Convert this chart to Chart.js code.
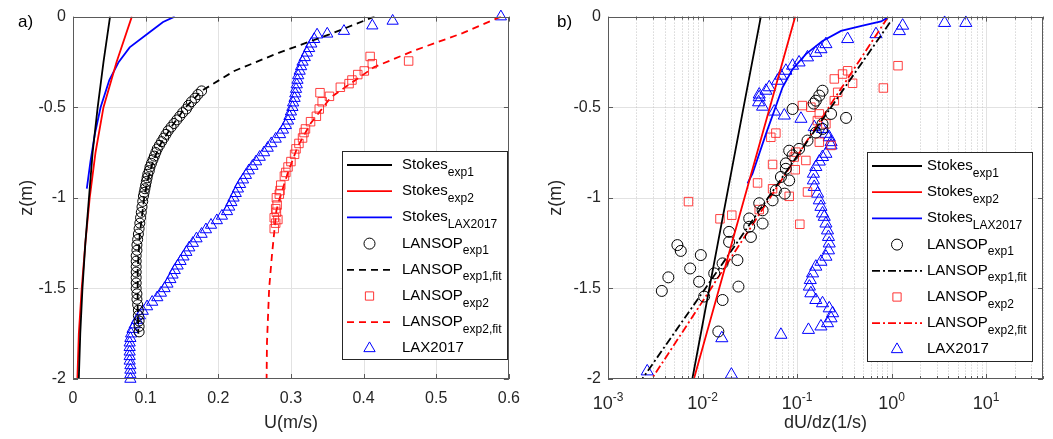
<!DOCTYPE html>
<html lang="en">
<head>
<meta charset="utf-8" />
<title>Stokes drift profiles</title>
<script src="https://cdn.jsdelivr.net/npm/chart.js@4.4.0/dist/chart.umd.min.js"></script>
<style>
  body { margin: 0; background: #fff; }
  .panel { position: absolute; top: 0; height: 439px; }
  #pa { left: 0; width: 530px; }
  #pb { left: 530px; width: 523px; }
</style>
</head>
<body>
<div class="panel" id="pa"><canvas id="chartA"></canvas></div>
<div class="panel" id="pb"><canvas id="chartB"></canvas></div>
<script>
// ---------- panel a) : U(z) ----------
const zStokes = [0, -0.25, -0.5, -0.75, -1, -1.25, -1.5, -1.75, -2];
const uStokesExp1 = [0.051, 0.042, 0.034, 0.027, 0.022, 0.017, 0.013, 0.010, 0.008];
const uStokesExp2 = [0.081, 0.060, 0.042, 0.031, 0.023, 0.017, 0.012, 0.008, 0.006];
const zStokesLax = [0, -0.03, -0.09, -0.17, -0.25, -0.35, -0.5, -0.65, -0.8, -0.95];
const uStokesLax = [0.140, 0.124, 0.104, 0.078, 0.063, 0.050, 0.038, 0.030, 0.024, 0.019];

const zLansop1 = [-0.41, -0.43, -0.45, -0.47, -0.49, -0.51, -0.53, -0.55, -0.57, -0.59, -0.61, -0.63, -0.65, -0.67, -0.69,
  -0.71, -0.73, -0.75, -0.77, -0.79, -0.81, -0.83, -0.85, -0.87, -0.89, -0.91, -0.93, -0.95, -0.97, -0.99,
  -1.02, -1.05, -1.08, -1.11, -1.14, -1.17, -1.20, -1.23, -1.26, -1.29, -1.32, -1.35, -1.38, -1.41, -1.44,
  -1.47, -1.50, -1.53, -1.56, -1.59, -1.62, -1.65, -1.68, -1.71, -1.74];
const uLansop1 = [0.177, 0.172, 0.168, 0.163, 0.159, 0.156, 0.151, 0.147, 0.143, 0.139, 0.135, 0.131, 0.128, 0.125, 0.122,
  0.119, 0.116, 0.114, 0.112, 0.110, 0.108, 0.106, 0.105, 0.103, 0.102, 0.101, 0.100, 0.099, 0.098, 0.097,
  0.096, 0.095, 0.094, 0.093, 0.092, 0.091, 0.090, 0.089, 0.088, 0.088, 0.087, 0.087, 0.087, 0.087, 0.087,
  0.087, 0.087, 0.088, 0.088, 0.089, 0.090, 0.090, 0.091, 0.091, 0.091];
const zFit1 = [0, -0.1, -0.2, -0.3, -0.41, -0.5, -0.6, -0.7, -0.8, -0.9, -1.0, -1.2, -1.4, -1.6, -1.75];
const uFit1 = [0.415, 0.352, 0.283, 0.222, 0.177, 0.155, 0.137, 0.121, 0.110, 0.103, 0.098, 0.092, 0.089, 0.089, 0.090];

const zLansop2 = [-0.22, -0.245, -0.26, -0.30, -0.32, -0.35, -0.37, -0.39, -0.42, -0.44, -0.47, -0.51, -0.55, -0.58, -0.62,
  -0.64, -0.67, -0.70, -0.73, -0.76, -0.80, -0.83, -0.86, -0.88, -0.93, -0.96, -0.98, -1.00, -1.04, -1.06,
  -1.08, -1.11, -1.12, -1.14, -1.17];
const uLansop2 = [0.409, 0.462, 0.412, 0.401, 0.392, 0.384, 0.380, 0.368, 0.340, 0.353, 0.343, 0.339, 0.335, 0.327, 0.320,
  0.318, 0.316, 0.311, 0.307, 0.305, 0.300, 0.296, 0.293, 0.291, 0.286, 0.285, 0.284, 0.280, 0.281, 0.279,
  0.280, 0.277, 0.282, 0.279, 0.277];
const zFit2 = [0, -0.09, -0.19, -0.28, -0.445, -0.59, -0.72, -0.865, -1.01, -1.07, -1.31, -1.5, -1.8, -2];
const uFit2 = [0.589, 0.537, 0.468, 0.414, 0.355, 0.327, 0.309, 0.2955, 0.284, 0.280, 0.274, 0.270, 0.267, 0.2665];

const zLax = [0, -0.024, -0.05, -0.08, -0.095,
  -0.10, -0.125, -0.15, -0.175, -0.20, -0.225, -0.25, -0.275, -0.30, -0.325, -0.35, -0.375, -0.40, -0.425, -0.45,
  -0.475, -0.50, -0.525, -0.55, -0.575, -0.60, -0.625, -0.65, -0.675, -0.70, -0.725, -0.75, -0.775, -0.80, -0.825,
  -0.85, -0.875, -0.90, -0.925, -0.95, -0.975, -1.00, -1.025, -1.05, -1.075, -1.10, -1.125, -1.15, -1.175, -1.20,
  -1.225, -1.25, -1.275, -1.30, -1.325, -1.35, -1.375, -1.40, -1.425, -1.45, -1.475, -1.50, -1.525, -1.55, -1.575,
  -1.60, -1.625, -1.65, -1.675, -1.70, -1.725, -1.75, -1.775, -1.80, -1.825, -1.85, -1.875, -1.90, -1.925, -1.95,
  -1.975, -2.00];
const uLax = [0.589, 0.440, 0.412, 0.373, 0.350,
  0.336, 0.332, 0.328, 0.325, 0.322, 0.319, 0.316, 0.314, 0.312, 0.310, 0.309, 0.308, 0.307, 0.306, 0.305,
  0.303, 0.302, 0.300, 0.298, 0.296, 0.293, 0.289, 0.285, 0.279, 0.273, 0.268, 0.263, 0.257, 0.252, 0.247,
  0.242, 0.238, 0.234, 0.230, 0.227, 0.224, 0.221, 0.218, 0.215, 0.212, 0.205, 0.198, 0.190, 0.183, 0.177,
  0.170, 0.165, 0.160, 0.156, 0.152, 0.148, 0.144, 0.140, 0.137, 0.134, 0.130, 0.126, 0.121, 0.116, 0.109,
  0.102, 0.096, 0.092, 0.088, 0.085, 0.082, 0.080, 0.079, 0.078, 0.078, 0.078, 0.078, 0.078, 0.079, 0.079,
  0.079, 0.079];

// ---------- panel b) : dU/dz(z) ----------
const zShearLine = [0, -0.5, -1, -1.5, -2];
const sStokesExp1 = [0.0414, 0.0272, 0.0179, 0.0118, 0.0078];
const sStokesExp2 = [0.0957, 0.0516, 0.0278, 0.0150, 0.0081];
const zShearLax = [-0.005, -0.027, -0.05, -0.079, -0.134, -0.207, -0.29, -0.39, -0.52, -0.647, -0.757, -0.867, -0.92];
const sStokesLax = [0.91, 0.775, 0.494, 0.292, 0.186, 0.124, 0.0897, 0.0703, 0.0574, 0.0469, 0.0398, 0.0338, 0.0299];
const zShearFit1 = [-0.033, -0.5, -1, -1.5, -2];
const sFit1 = [0.96, 0.229, 0.0494, 0.0107, 0.0023];
const zShearFit2 = [-0.005, -0.5, -1, -1.5, -2];
const sFit2 = [0.91, 0.217, 0.0518, 0.0123, 0.0029];

const zShear1 = [-0.409, -0.436, -0.464, -0.48, -0.51, -0.537, -0.559, -0.592, -0.62, -0.64, -0.684, -0.73, -0.74, -0.766,
  -0.81, -0.84, -0.885, -0.904, -0.959, -0.977, -1.014, -1.03, -1.069, -1.114, -1.142, -1.16, -1.188, -1.216, -1.243,
  -1.261, -1.293, -1.316, -1.344, -1.362, -1.39, -1.417, -1.439, -1.463, -1.49, -1.514, -1.545, -1.564, -1.738];
const sShear1 = [0.186, 0.172, 0.158, 0.150, 0.0897, 0.229, 0.330, 0.186, 0.186, 0.158, 0.129, 0.105, 0.0826, 0.0897,
  0.0762, 0.0762, 0.0675, 0.0826, 0.0597, 0.0740, 0.0551, 0.0398, 0.0432, 0.0312, 0.0432, 0.0312, 0.0191, 0.0325, 0.0191,
  0.00542, 0.00589, 0.00959, 0.0234, 0.0163, 0.0074, 0.0133, 0.00435, 0.0092, 0.024, 0.00371, 0.0104, 0.0163, 0.0147];

const zShear2 = [-0.271, -0.299, -0.317, -0.344, -0.368, -0.394, -0.418, -0.464, -0.491, -0.50, -0.537, -0.574, -0.592,
  -0.643, -0.666, -0.693, -0.711, -0.748, -0.775, -0.794, -0.816, -0.845, -0.918, -0.95, -0.968, -0.992, -1.021, -1.065,
  -1.096, -1.116, -1.146];
const sShear2 = [1.17, 0.343, 0.303, 0.248, 0.387, 0.819, 0.269, 0.248, 0.114, 0.140, 0.172, 0.164, 0.202,
  0.0597, 0.0528, 0.172, 0.229, 0.0973, 0.0934, 0.124, 0.0551, 0.0957, 0.0382, 0.0551, 0.129, 0.0826, 0.0071, 0.0398,
  0.0204, 0.0153, 0.107];

const zShearLaxPts = [-0.035, -0.035, -0.05, -0.08, -0.097, -0.124, -0.152, -0.18, -0.2, -0.225, -0.253, -0.271, -0.299,
  -0.326, -0.354, -0.39, -0.409, -0.43, -0.445, -0.473, -0.497, -0.524, -0.546, -0.564, -0.61, -0.62, -0.647, -0.666,
  -0.693, -0.711, -0.757, -0.775, -0.80, -0.83, -0.867, -0.904, -0.94, -0.977, -1.014, -1.05, -1.086, -1.105, -1.142,
  -1.18, -1.216, -1.252, -1.29, -1.325, -1.353, -1.38, -1.417, -1.454, -1.49, -1.527, -1.564, -1.582, -1.61, -1.637,
  -1.665, -1.692, -1.71, -1.729, -1.756, -1.775, -1.958, -1.976];
const sShearLaxPts = [6.1, 3.64, 1.31, 1.21, 0.684, 0.343, 0.202, 0.179, 0.158, 0.129, 0.105, 0.0897, 0.0762,
  0.0675, 0.0622, 0.0508, 0.0469, 0.0398, 0.0398, 0.0392, 0.0432, 0.0574, 0.0733, 0.110, 0.152, 0.186, 0.202, 0.219,
  0.229, 0.229, 0.202, 0.186, 0.172, 0.158, 0.149, 0.149, 0.152, 0.165, 0.172, 0.179, 0.186, 0.194, 0.202,
  0.21, 0.215, 0.219, 0.215, 0.202, 0.179, 0.158, 0.146, 0.138, 0.135, 0.140, 0.158, 0.186, 0.219, 0.238,
  0.229, 0.21, 0.179, 0.132, 0.0675, 0.016, 0.0026, 0.0202];

const decadeTicks = [0.001, 0.01, 0.1, 1, 10];
const decadeExponents = ['-3', '-2', '-1', '0', '1'];
const zTicks = [0, -0.5, -1, -1.5, -2];

const FONT = '"Liberation Sans", Arial, Helvetica, sans-serif';

function pts(xs, ys) {
  return xs.map((x, i) => ({ x: x, y: ys[i] }));
}
function lineSet(xs, zs, color, dash) {
  return { data: pts(xs, zs), showLine: true, borderColor: color, borderWidth: 1.8,
    borderDash: dash || [], pointRadius: 0, pointHoverRadius: 0, fill: false };
}
function markerSet(xs, zs, color, style, r) {
  return { data: pts(xs, zs), showLine: false, pointStyle: style, pointRadius: r, pointHoverRadius: r,
    pointBorderColor: color, pointBackgroundColor: 'rgba(0,0,0,0)', pointBorderWidth: 1, clip: false };
}

function legendEntries(fitDash) {
  return [
    { main: 'Stokes', sub: 'exp1', kind: 'line', color: '#000' },
    { main: 'Stokes', sub: 'exp2', kind: 'line', color: '#f00' },
    { main: 'Stokes', sub: 'LAX2017', kind: 'line', color: '#00f' },
    { main: 'LANSOP', sub: 'exp1', kind: 'circle', color: '#000' },
    { main: 'LANSOP', sub: 'exp1,fit', kind: 'line', color: '#000', dash: fitDash },
    { main: 'LANSOP', sub: 'exp2', kind: 'rect', color: '#f33' },
    { main: 'LANSOP', sub: 'exp2,fit', kind: 'line', color: '#f00', dash: fitDash },
    { main: 'LAX2017', sub: '', kind: 'triangle', color: '#00f' }
  ];
}

function drawMarker(ctx, kind, x, y, r) {
  ctx.beginPath();
  if (kind === 'circle') ctx.arc(x, y, r, 0, Math.PI * 2);
  else if (kind === 'rect') ctx.rect(x - r * 0.75, y - r * 0.75, r * 1.5, r * 1.5);
  else if (kind === 'triangle') {
    ctx.moveTo(x, y - r);
    ctx.lineTo(x + r * 0.87, y + r * 0.5);
    ctx.lineTo(x - r * 0.87, y + r * 0.5);
    ctx.closePath();
  }
  ctx.stroke();
}

// grid, box, inward ticks, legend and labels, drawn from the chart's own scales
function decor(o) {
  return {
    id: 'decor' + o.tag,
    beforeDatasetsDraw(chart) {
      const { ctx, chartArea: a, scales: { x, y } } = chart;
      ctx.save();
      ctx.lineWidth = 1;
      ctx.strokeStyle = '#e2e2e2';
      o.yGrid.forEach(v => {
        const py = Math.round(y.getPixelForValue(v)) + 0.5;
        ctx.beginPath(); ctx.moveTo(a.left, py); ctx.lineTo(a.right, py); ctx.stroke();
      });
      o.xGrid.forEach(v => {
        const px = Math.round(x.getPixelForValue(v)) + 0.5;
        ctx.beginPath(); ctx.moveTo(px, a.top); ctx.lineTo(px, a.bottom); ctx.stroke();
      });
      if (o.xMinor) {
        ctx.strokeStyle = '#c4c4c4';
        ctx.setLineDash([1, 2]);
        o.xMinor.forEach(v => {
          const px = Math.round(x.getPixelForValue(v)) + 0.5;
          ctx.beginPath(); ctx.moveTo(px, a.top); ctx.lineTo(px, a.bottom); ctx.stroke();
        });
      }
      ctx.restore();
    },
    afterDatasetsDraw(chart) {
      const { ctx, chartArea: a, scales: { x, y } } = chart;
      ctx.save();
      // box
      ctx.strokeStyle = '#5a5a5a';
      ctx.lineWidth = 1;
      ctx.strokeRect(Math.round(a.left) + 0.5, Math.round(a.top) + 0.5,
        Math.round(a.right - a.left) - 1, Math.round(a.bottom - a.top) - 1);
      // ticks inward
      const tick = (x1, y1, x2, y2) => { ctx.beginPath(); ctx.moveTo(x1, y1); ctx.lineTo(x2, y2); ctx.stroke(); };
      o.yTicks.forEach(v => {
        const py = Math.round(y.getPixelForValue(v)) + 0.5;
        tick(a.left, py, a.left + 5, py); tick(a.right - 5, py, a.right, py);
      });
      o.xTicks.forEach(v => {
        const px = Math.round(x.getPixelForValue(v)) + 0.5;
        tick(px, a.bottom, px, a.bottom - 5); tick(px, a.top, px, a.top + 5);
      });
      (o.xMinor || []).forEach(v => {
        const px = Math.round(x.getPixelForValue(v)) + 0.5;
        tick(px, a.bottom, px, a.bottom - 3); tick(px, a.top, px, a.top + 3);
      });
      // log tick labels 10^n
      if (o.expLabels) {
        ctx.fillStyle = '#262626';
        ctx.textBaseline = 'alphabetic';
        decadeTicks.forEach((v, i) => {
          ctx.font = '18px ' + FONT;
          const wb = ctx.measureText('10').width;
          ctx.font = '12px ' + FONT;
          const we = ctx.measureText(decadeExponents[i]).width;
          const px = x.getPixelForValue(v);
          const left = px - (wb + we) / 2;
          ctx.font = '18px ' + FONT;
          ctx.textAlign = 'left';
          ctx.fillText('10', left, 409);
          ctx.font = '12px ' + FONT;
          ctx.fillText(decadeExponents[i], left + wb, 400.5);
        });
      }
      // axis titles and panel tag
      ctx.fillStyle = '#262626';
      ctx.font = '18px ' + FONT;
      ctx.textAlign = 'center';
      ctx.textBaseline = 'middle';
      ctx.fillText(o.xTitle, (a.left + a.right) / 2, 423);
      ctx.save();
      ctx.translate(o.yTitleX, (a.top + a.bottom) / 2);
      ctx.rotate(-Math.PI / 2);
      ctx.fillText('z(m)', 0, 0);
      ctx.restore();
      ctx.fillStyle = '#000';
      ctx.font = '17px ' + FONT;
      ctx.textAlign = 'left';
      ctx.textBaseline = 'alphabetic';
      ctx.fillText(o.tagText, o.tagX, 27);
      // legend
      const L = o.legend;
      ctx.fillStyle = '#fff';
      ctx.fillRect(L.x1, L.y1, L.x2 - L.x1, L.y2 - L.y1);
      ctx.strokeStyle = '#262626';
      ctx.lineWidth = 1;
      ctx.strokeRect(L.x1 + 0.5, L.y1 + 0.5, L.x2 - L.x1, L.y2 - L.y1);
      legendEntries(o.fitDash).forEach((e, i) => {
        const ry = L.y1 + 14 + i * 26.2;
        ctx.strokeStyle = e.color;
        if (e.kind === 'line') {
          ctx.lineWidth = 1.8;
          ctx.setLineDash(e.dash || []);
          tick(L.lineX1, ry, L.lineX2, ry);
          ctx.setLineDash([]);
        } else {
          ctx.lineWidth = 1;
          drawMarker(ctx, e.kind, (L.lineX1 + L.lineX2) / 2, ry, e.kind === 'triangle' ? 6.5 : 5.5);
        }
        ctx.fillStyle = '#000';
        ctx.font = '15px ' + FONT;
        ctx.fillText(e.main, L.textX, ry + 4);
        const w = ctx.measureText(e.main).width;
        ctx.font = '12px ' + FONT;
        ctx.fillText(e.sub, L.textX + w, ry + 10.5);
      });
      ctx.restore();
    }
  };
}

const tickFont = { family: FONT, size: 16 };
const zTickLabel = v => String(v);

const chartA = new Chart(document.getElementById('chartA'), {
  type: 'scatter',
  data: {
    datasets: [
      lineSet(uStokesExp1, zStokes, '#000'),
      lineSet(uStokesExp2, zStokes, '#f00'),
      lineSet(uStokesLax, zStokesLax, '#00f'),
      markerSet(uLansop1, zLansop1, '#000', 'circle', 5),
      lineSet(uFit1, zFit1, '#000', [7, 5]),
      markerSet(uLansop2, zLansop2, 'rgba(255,30,30,0.85)', 'rect', 6),
      lineSet(uFit2, zFit2, '#f00', [7, 5]),
      markerSet(uLax, zLax, '#00f', 'triangle', 6.5)
    ]
  },
  options: {
    responsive: true,
    maintainAspectRatio: false,
    animation: false,
    events: [],
    layout: { padding: { left: 0, top: 16, right: 17, bottom: 0 } },
    plugins: { legend: { display: false }, tooltip: { enabled: false } },
    scales: {
      x: {
        type: 'linear', min: 0, max: 0.6,
        grid: { display: false, drawTicks: false },
        border: { display: false },
        ticks: { stepSize: 0.1, autoSkip: false, maxRotation: 0, padding: 10, color: '#262626', font: tickFont },
        afterFit: s => { s.height = 60; }
      },
      y: {
        type: 'linear', min: -2, max: 0,
        grid: { display: false, drawTicks: false },
        border: { display: false },
        ticks: { stepSize: 0.5, padding: 7, color: '#262626', font: tickFont, callback: zTickLabel },
        afterFit: s => { s.width = 73; }
      }
    }
  },
  plugins: [decor({
    tag: 'A', tagText: 'a)', tagX: 18, xTitle: 'U(m/s)', yTitleX: 27,
    xGrid: [0.1, 0.2, 0.3, 0.4, 0.5], yGrid: [-0.5, -1, -1.5],
    xTicks: [0, 0.1, 0.2, 0.3, 0.4, 0.5, 0.6], yTicks: zTicks,
    fitDash: [7, 5],
    legend: { x1: 342, y1: 151, x2: 507, y2: 359, lineX1: 347, lineX2: 392, textX: 402 }
  })]
});

const minorTicks = [];
decadeTicks.forEach(d => {
  [2, 3, 4, 5, 6, 7, 8, 9].forEach(k => { if (k * d <= 40) minorTicks.push(k * d); });
});

const chartB = new Chart(document.getElementById('chartB'), {
  type: 'scatter',
  data: {
    datasets: [
      lineSet(sStokesExp1, zShearLine, '#000'),
      lineSet(sStokesExp2, zShearLine, '#f00'),
      lineSet(sStokesLax, zShearLax, '#00f'),
      markerSet(sShear1, zShear1, '#000', 'circle', 5.5),
      lineSet(sFit1, zShearFit1, '#000', [8, 3, 2, 3]),
      markerSet(sShear2, zShear2, 'rgba(255,30,30,0.85)', 'rect', 6),
      lineSet(sFit2, zShearFit2, '#f00', [8, 3, 2, 3]),
      markerSet(sShearLaxPts, zShearLaxPts, '#00f', 'triangle', 7)
    ]
  },
  options: {
    responsive: true,
    maintainAspectRatio: false,
    animation: false,
    events: [],
    layout: { padding: { left: 0, top: 16, right: 10, bottom: 0 } },
    plugins: { legend: { display: false }, tooltip: { enabled: false } },
    scales: {
      x: {
        type: 'logarithmic', min: 0.001, max: 40,
        grid: { display: false, drawTicks: false },
        border: { display: false },
        ticks: { display: false },
        afterFit: s => { s.height = 60; }
      },
      y: {
        type: 'linear', min: -2, max: 0,
        grid: { display: false, drawTicks: false },
        border: { display: false },
        ticks: { stepSize: 0.5, padding: 7, color: '#262626', font: tickFont, callback: zTickLabel },
        afterFit: s => { s.width = 78; }
      }
    }
  },
  plugins: [decor({
    tag: 'B', tagText: 'b)', tagX: 27, xTitle: 'dU/dz(1/s)', yTitleX: 26, expLabels: true,
    xGrid: decadeTicks.slice(1), yGrid: [-0.5, -1, -1.5], xMinor: minorTicks,
    xTicks: decadeTicks, yTicks: zTicks,
    fitDash: [8, 3, 2, 3],
    legend: { x1: 337, y1: 152, x2: 502, y2: 361, lineX1: 342, lineX2: 392, textX: 397 }
  })]
});
</script>
</body>
</html>
